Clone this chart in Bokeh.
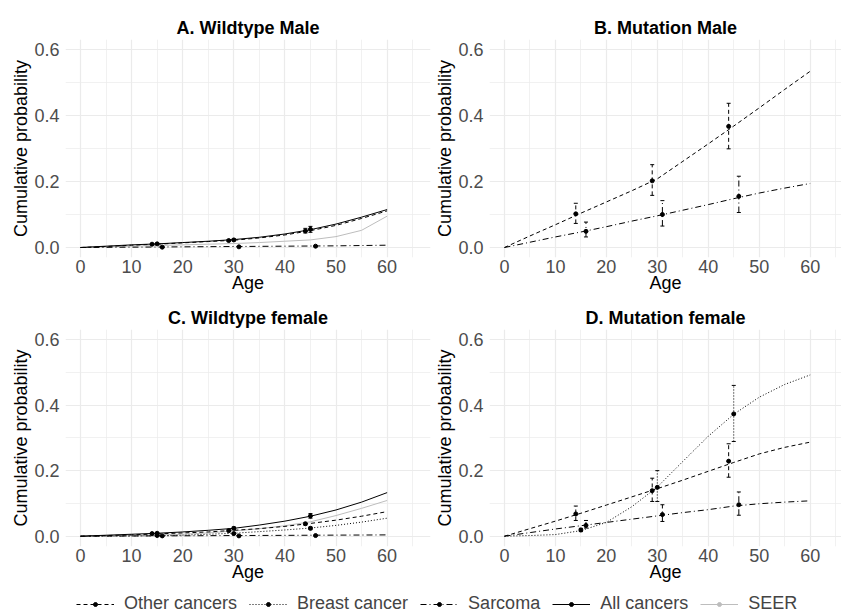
from bokeh.plotting import figure
from bokeh.models import (ColumnDataSource, FixedTicker, PrintfTickFormatter, Whisker,
                          Legend, LegendItem, TeeHead, Range1d)
from bokeh.layouts import column, row
from bokeh.embed import file_html
from bokeh.resources import INLINE

# ---------------- data ----------------
ages = [0, 5, 10, 15, 20, 25, 30, 35, 40, 45, 50, 55, 60]

# A. Wildtype Male
wm_other = [0, 0.003, 0.007, 0.010, 0.014, 0.018, 0.022, 0.029, 0.038, 0.051, 0.067, 0.088, 0.111]
wm_sarcoma = [0, 0.0005, 0.001, 0.0015, 0.002, 0.0025, 0.003, 0.0035, 0.004, 0.0045, 0.005, 0.006, 0.007]
wm_all = [0, 0.004, 0.008, 0.011, 0.015, 0.019, 0.024, 0.031, 0.041, 0.054, 0.071, 0.092, 0.115]
wm_seer = [0, 0.002, 0.004, 0.006, 0.008, 0.010, 0.012, 0.015, 0.019, 0.023, 0.033, 0.052, 0.095]

# B. Mutation Male
mm_other = [0, 0.035, 0.069, 0.104, 0.138, 0.172, 0.208, 0.261, 0.314, 0.368, 0.423, 0.479, 0.534]
mm_sarcoma = [0, 0.016, 0.032, 0.047, 0.063, 0.080, 0.096, 0.113, 0.130, 0.148, 0.165, 0.180, 0.194]

# C. Wildtype female
wf_other = [0, 0.002, 0.004, 0.007, 0.010, 0.013, 0.018, 0.023, 0.030, 0.039, 0.049, 0.061, 0.075]
wf_breast = [0, 0.0002, 0.0006, 0.0015, 0.003, 0.006, 0.009, 0.014, 0.019, 0.025, 0.033, 0.043, 0.055]
wf_sarcoma = [0, 0.0003, 0.0006, 0.001, 0.0013, 0.0016, 0.002, 0.0023, 0.0026, 0.003, 0.0033, 0.0036, 0.004]
wf_all = [0, 0.003, 0.006, 0.009, 0.013, 0.018, 0.024, 0.034, 0.046, 0.061, 0.080, 0.104, 0.133]
wf_seer = [0, 0.001, 0.002, 0.004, 0.006, 0.010, 0.016, 0.023, 0.032, 0.044, 0.063, 0.085, 0.109]

# D. Mutation female
mf_other = [0, 0.023, 0.046, 0.070, 0.095, 0.120, 0.145, 0.171, 0.198, 0.225, 0.251, 0.271, 0.287]
mf_breast = [0, 0.002, 0.005, 0.017, 0.042, 0.090, 0.150, 0.228, 0.305, 0.372, 0.424, 0.463, 0.492]
mf_sarcoma = [0, 0.011, 0.022, 0.032, 0.042, 0.052, 0.062, 0.072, 0.081, 0.092, 0.099, 0.104, 0.108]

# observed points (age, estimate, lower, upper)
pt_age_other = [14, 29, 44]
pt_age_mid = [15, 30, 45]
pt_age_sarc = [16, 31, 46]

wm_other_est = [0.010, 0.021, 0.050]; wm_other_lo = [0.008, 0.018, 0.044]; wm_other_hi = [0.012, 0.024, 0.058]
wm_all_est = [0.011, 0.023, 0.055]; wm_all_lo = [0.009, 0.020, 0.046]; wm_all_hi = [0.013, 0.026, 0.064]
wm_sarc_est = [0.001, 0.002, 0.004]; wm_sarc_lo = [0.0, 0.001, 0.002]; wm_sarc_hi = [0.002, 0.003, 0.006]

mm_other_est = [0.102, 0.202, 0.367]; mm_other_lo = [0.073, 0.158, 0.299]; mm_other_hi = [0.134, 0.251, 0.437]
mm_sarc_est = [0.049, 0.100, 0.155]; mm_sarc_lo = [0.032, 0.065, 0.106]; mm_sarc_hi = [0.077, 0.142, 0.216]

wf_other_est = [0.008, 0.017, 0.038]; wf_other_lo = [0.006, 0.014, 0.034]; wf_other_hi = [0.010, 0.020, 0.042]
wf_breast_est = [0.002, 0.008, 0.024]; wf_breast_lo = [0.001, 0.006, 0.020]; wf_breast_hi = [0.003, 0.010, 0.028]
wf_all_est = [0.009, 0.024, 0.062]; wf_all_lo = [0.007, 0.020, 0.055]; wf_all_hi = [0.011, 0.028, 0.069]
wf_sarc_est = [0.001, 0.001, 0.002]; wf_sarc_lo = [0.0, 0.0, 0.001]; wf_sarc_hi = [0.002, 0.002, 0.003]

mf_other_est = [0.068, 0.139, 0.229]; mf_other_lo = [0.048, 0.106, 0.180]; mf_other_hi = [0.092, 0.177, 0.282]
mf_breast_est = [0.019, 0.149, 0.373]; mf_breast_lo = [0.014, 0.106, 0.289]; mf_breast_hi = [0.024, 0.200, 0.460]
mf_sarc_est = [0.033, 0.066, 0.096]; mf_sarc_lo = [0.025, 0.045, 0.064]; mf_sarc_hi = [0.048, 0.096, 0.135]

x_ticks = [0, 10, 20, 30, 40, 50, 60]
x_minor = [5, 15, 25, 35, 45, 55, 65]
y_ticks = [0.0, 0.2, 0.4, 0.6]
y_minor = [0.1, 0.3, 0.5]

series_names = ["Other cancers", "Breast cancer", "Sarcoma", "All cancers", "SEER"]

# ---------------- styling ----------------
FONT = "Liberation Sans"
STY = {
    "Other cancers": dict(color="black", dash="4 3"),
    "Breast cancer": dict(color="black", dash="1 2"),
    "Sarcoma": dict(color="black", dash="6 3 1 3"),
    "All cancers": dict(color="black", dash="solid"),
    "SEER": dict(color="#BDBDBD", dash="solid"),
}


def make_panel(title, width, height, xr, yr, left, right, top, bottom):
    p = figure(width=width, height=height, output_backend="svg", toolbar_location=None,
               x_range=Range1d(*xr), y_range=Range1d(*yr),
               min_border_left=left, min_border_right=right,
               min_border_top=top, min_border_bottom=bottom, title=title)
    p.title.text_font = FONT
    p.title.text_font_size = "18px"
    p.title.text_font_style = "bold"
    p.title.text_color = "black"
    p.title.align = "center"
    p.title.standoff = 4
    p.outline_line_color = None
    p.background_fill_color = "white"
    p.border_fill_color = "white"
    p.xaxis.ticker = FixedTicker(ticks=x_ticks, minor_ticks=x_minor)
    p.yaxis.ticker = FixedTicker(ticks=y_ticks, minor_ticks=y_minor)
    p.yaxis.formatter = PrintfTickFormatter(format="%.1f")
    p.xaxis.axis_label = "Age"
    p.yaxis.axis_label = "Cumulative probability"
    for ax in (p.xaxis, p.yaxis):
        ax.axis_line_color = None
        ax.major_tick_line_color = None
        ax.minor_tick_line_color = None
        ax.major_tick_out = 0
        ax.major_tick_in = 0
        ax.minor_tick_out = 0
        ax.minor_tick_in = 0
        ax.major_label_text_font = FONT
        ax.major_label_text_font_size = "18px"
        ax.major_label_text_color = "#4D4D4D"
        ax.axis_label_text_font = FONT
        ax.axis_label_text_font_size = "18px"
        ax.axis_label_text_font_style = "normal"
        ax.axis_label_text_color = "black"
    p.xaxis.major_label_standoff = 2
    p.xaxis.axis_label_standoff = -3
    p.yaxis.major_label_standoff = 6
    p.yaxis.axis_label_standoff = 0
    for g in (p.xgrid, p.ygrid):
        g.grid_line_color = "#EBEBEB"
        g.grid_line_width = 1.2
        g.minor_grid_line_color = "#EBEBEB"
        g.minor_grid_line_width = 0.7
    return p


def add_curve(p, name, yvals):
    s = STY[name]
    p.line(ages, yvals, line_color=s["color"], line_dash=s["dash"], line_width=1)


def add_points(p, name, xs, est, lo, hi):
    s = STY[name]
    src = ColumnDataSource(dict(x=xs, est=est, lo=lo, hi=hi))
    w = Whisker(source=src, base="x", upper="hi", lower="lo",
                line_color=s["color"], line_dash=s["dash"], line_width=1,
                upper_head=TeeHead(size=4, line_color=s["color"], line_width=1),
                lower_head=TeeHead(size=4, line_color=s["color"], line_width=1))
    p.add_layout(w)
    p.scatter("x", "est", source=src, size=4, color=s["color"])


YR_TOP = (-0.0303, 0.6303)
YR_BOT = (-0.0314, 0.6306)
XR_LEFT = (-2.935, 68.49)
XR_RIGHT = (-2.935, 66.15)

pA = make_panel("A. Wildtype Male", 432, 296, XR_LEFT, YR_TOP, 65, 2, 39, 39)
add_curve(pA, "SEER", wm_seer)
add_curve(pA, "Other cancers", wm_other)
add_curve(pA, "Sarcoma", wm_sarcoma)
add_curve(pA, "All cancers", wm_all)
add_points(pA, "Other cancers", pt_age_other, wm_other_est, wm_other_lo, wm_other_hi)
add_points(pA, "All cancers", pt_age_mid, wm_all_est, wm_all_lo, wm_all_hi)
add_points(pA, "Sarcoma", pt_age_sarc, wm_sarc_est, wm_sarc_lo, wm_sarc_hi)

pB = make_panel("B. Mutation Male", 409, 296, XR_RIGHT, YR_TOP, 56, 0, 39, 39)
add_curve(pB, "Other cancers", mm_other)
add_curve(pB, "Sarcoma", mm_sarcoma)
add_points(pB, "Other cancers", pt_age_other, mm_other_est, mm_other_lo, mm_other_hi)
add_points(pB, "Sarcoma", pt_age_sarc, mm_sarc_est, mm_sarc_lo, mm_sarc_hi)

pC = make_panel("C. Wildtype female", 432, 289, XR_LEFT, YR_BOT, 65, 2, 33, 39)
add_curve(pC, "SEER", wf_seer)
add_curve(pC, "Other cancers", wf_other)
add_curve(pC, "Breast cancer", wf_breast)
add_curve(pC, "Sarcoma", wf_sarcoma)
add_curve(pC, "All cancers", wf_all)
add_points(pC, "Other cancers", pt_age_other, wf_other_est, wf_other_lo, wf_other_hi)
add_points(pC, "Breast cancer", pt_age_mid, wf_breast_est, wf_breast_lo, wf_breast_hi)
add_points(pC, "All cancers", pt_age_mid, wf_all_est, wf_all_lo, wf_all_hi)
add_points(pC, "Sarcoma", pt_age_sarc, wf_sarc_est, wf_sarc_lo, wf_sarc_hi)

pD = make_panel("D. Mutation female", 409, 289, XR_RIGHT, YR_BOT, 56, 0, 33, 39)
add_curve(pD, "Other cancers", mf_other)
add_curve(pD, "Breast cancer", mf_breast)
add_curve(pD, "Sarcoma", mf_sarcoma)
add_points(pD, "Other cancers", pt_age_other, mf_other_est, mf_other_lo, mf_other_hi)
add_points(pD, "Breast cancer", pt_age_mid, mf_breast_est, mf_breast_lo, mf_breast_hi)
add_points(pD, "Sarcoma", pt_age_sarc, mf_sarc_est, mf_sarc_lo, mf_sarc_hi)

# ---------------- legend strip ----------------
pL = figure(width=841, height=29, output_backend="svg", toolbar_location=None,
            x_axis_location=None, y_axis_location=None,
            min_border_left=0, min_border_right=0, min_border_top=0, min_border_bottom=0,
            x_range=Range1d(0, 1), y_range=Range1d(0, 1))
pL.grid.visible = False
pL.outline_line_color = None
items = []
for name in series_names:
    s = STY[name]
    # legend-only renderers: a single NaN placeholder, nothing is drawn in the frame
    key_src = ColumnDataSource(dict(x=[float("nan")], y=[float("nan")]))
    lr = pL.line("x", "y", source=key_src, line_color=s["color"], line_dash=s["dash"], line_width=1)
    sr = pL.scatter("x", "y", source=key_src, size=4, color=s["color"])
    items.append(LegendItem(label=name, renderers=[lr, sr]))
leg = Legend(items=items, orientation="horizontal", location=(76, 0),
             glyph_width=38, glyph_height=10, label_standoff=10, spacing=12,
             padding=0, margin=0, border_line_color=None, background_fill_alpha=0,
             label_text_font=FONT, label_text_font_size="18px", label_height=20)
pL.add_layout(leg)

layout = column(row(pA, pB), row(pC, pD), pL)
open("out.html", "w").write(file_html(layout, INLINE))
